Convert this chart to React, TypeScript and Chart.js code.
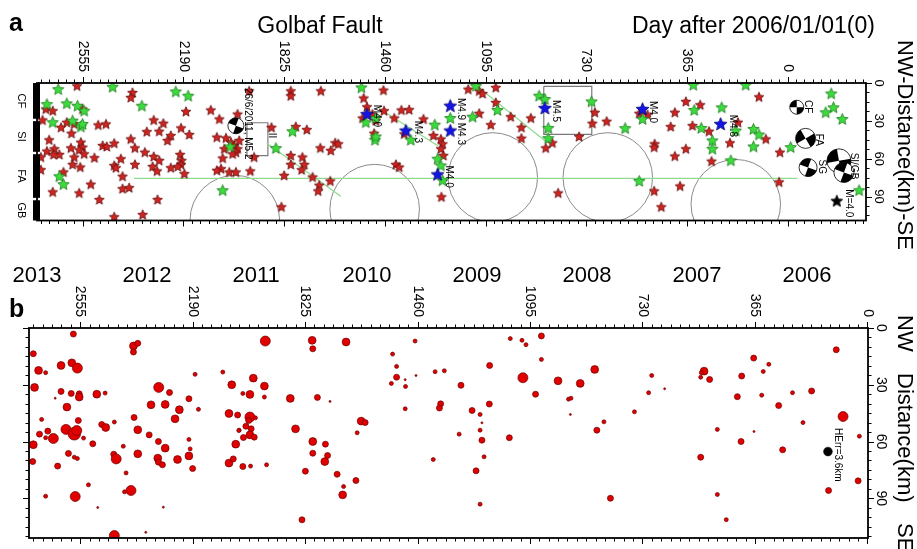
import React, { useEffect, useRef } from 'react';
import { Chart, registerables } from 'chart.js';
Chart.register(...registerables);

const FONT = '"Liberation Sans", Arial, Helvetica, sans-serif';

// ---------- Panel a data (day after 2006/01/01, NW-SE distance km) ----------
const dayTicks = [2555, 2190, 1825, 1460, 1095, 730, 365, 0];
const distTicks = [0, 30, 60, 90];

const redStarsA: number[][] = [
  [2576,2.6],[2375,7.9],[2381,11.8],[2689,21.0],[2664,22.3],[2701,29.7],[2556,21.0],[2613,31.5],[2634,35.5],[2596,40.2],
  [2586,32.8],[2499,33.6],[2471,32.8],[2298,29.7],[2263,32.3],[2181,22.9],[2091,21.8],[2060,28.9],[2323,38.9],[2278,38.6],
  [2199,36.0],[2169,41.2],[2236,42.0],[2248,45.9],[2381,44.7],[2441,48.1],[2483,49.9],[2468,50.7],[2562,47.3],[2556,51.2],
  [2598,51.8],[2568,53.3],[2677,45.4],[2685,54.4],[2658,52.5],[2640,57.0],[2661,57.0],[2586,59.1],[2550,56.5],[2513,59.6],
  [2366,51.8],[2330,55.2],[2298,58.6],[2278,61.7],[2202,57.0],[2197,61.7],[2199,64.9],[2417,60.4],[2441,65.7],[2435,67.5],
  [2366,64.9],[2592,64.9],[2564,67.0],[2707,59.1],[2707,69.1],[2302,66.5],[2286,70.1],[2236,67.5],[2187,72.2],[2211,66.5],
  [2411,74.3],[2625,70.9],[2526,80.6],[2411,84.1],[2387,83.3],[2568,87.5],[2664,86.7],[2495,92.7],[2284,92.7],[2441,106.4],
  [2338,104.6],[2069,43.3],[2036,43.9],[2042,52.5],[2018,47.3],[2006,49.9],[1994,52.5],[2000,55.2],[2012,56.5],[1988,45.9],
  [2048,59.9],[2054,68.3],[2069,69.6],[2024,70.9],[2000,70.9],[1994,25.0],
  [1952,6.6],[1801,6.6],[1801,10.5],[1692,6.6],[1465,6.0],[1537,12.3],[1525,19.2],[1541,28.1],[1505,25.0],[1493,30.2],
  [1463,22.3],[1426,28.1],[1400,21.8],[1372,21.5],[1320,28.9],[1390,40.7],[1284,42.0],[1257,44.7],[1251,48.6],[1257,52.5],
  [1248,57.8],[1255,90.6],[1499,40.2],[1871,35.5],[1783,34.9],[1743,37.3],[1694,51.8],[1656,53.8],[1640,47.8],[1629,48.6],
  [1801,57.8],[1759,59.1],[1801,64.9],[1752,64.9],[1762,69.1],[1722,74.9],[1698,81.4],[1702,85.9],[1658,78.0],[1825,73.6],
  [1948,70.1],[1934,59.1],[1835,98.5],[1420,64.9],[1408,67.0],
  [1158,5.3],[1118,6.6],[1106,8.7],[1058,3.9],[1058,15.8],[1118,24.4],[1076,33.4],[1004,27.1],[931,28.1],[965,35.5],
  [965,44.1],[877,51.8],[853,47.8],[699,23.6],[708,32.3],[756,42.8],[656,30.7],[538,24.4],[508,25.5],[482,48.6],
  [484,51.2],[832,87.5],[484,85.9],[458,98.5],
  [104,11.3],[369,15.0],[409,23.6],[317,17.6],[424,34.9],[345,34.1],[285,38.6],[180,31.5],[79,44.7],[369,52.5],
  [409,58.3],[209,47.8],[276,62.3],[28,55.2],[390,82.0],[31,78.8],
];

const greenStarsA: number[][] = [
  [2644,5.3],[2447,3.4],[2341,18.4],[2218,7.1],[2173,10.5],[2685,17.1],[2613,16.5],[2574,18.4],[2550,22.3],[2664,31.5],
  [2592,30.2],[2562,34.9],[2556,32.8],[2640,74.3],[2625,80.6],[2048,85.4],[2021,50.7],
  [1545,3.9],[1529,31.5],[1493,28.1],[1496,45.4],[1493,42.8],[1366,45.4],[1279,33.4],[1223,28.1],[1269,60.4],[1257,65.7],
  [1251,77.5],[1795,38.6],[1855,52.0],
  [1130,2.6],[1052,21.8],[1142,27.1],[901,10.5],[880,13.1],[868,36.0],[868,44.1],[711,15.0],[526,28.9],[589,36.2],[538,78.0],
  [342,1.8],[152,1.8],[339,21.8],[239,19.7],[313,36.0],[188,38.1],[124,36.8],[104,41.2],[273,45.9],[273,52.5],[124,50.7],
  [206,61.7],[-11,51.2],[-158,8.7],[-166,19.7],[-138,23.6],[-198,28.9],[-259,85.4],
];

const blueStarsA: number[][] = [
  [1525,25.0],[1384,38.1],[1223,18.4],[1223,38.1],[1269,72.8],[880,20.2],[526,21.0],[243,32.8],
];
const blackStarA: number[][] = [[-178, 93.8]];

const faultLineMain: number[][] = [[2370, 75.6], [-36, 75.6]];
const faultLine1: number[][] = [[1888, 47.8], [1620, 89.8]];
const faultLine2: number[][] = [[1481, 20.2], [1267, 49.9]];
const faultLine3: number[][] = [[1130, 1.8], [871, 47.3]];

// boxes: [dayStart, dayEnd, kmTop, kmBottom]
const boxesA: number[][] = [[1960, 1884, 31.5, 57.5], [884, 710, 2.6, 40.7]];
// circles: [day, km] centre, radius in km
const circleCentersA: number[][] = [[2004, 108.7], [1497, 100.0], [1069, 74.9], [652, 74.9], [188, 96.1]];
const circleRadiusKm = 35.5;

// beachballs: [day, km, magnitude, strike(deg)]
const beachballsA: number[][] = [
  [2000, 33.9, 5.2, 200], [-33, 19.2, 5.0, 180], [-65, 43.9, 5.6, 150],
  [-74, 67.0, 5.4, 200], [-186, 61.7, 6.0, 170], [-204, 70.9, 5.6, 20],
];

const annotationsA: [number, number, string][] = [
  [841, 13.4, 'M4.5'], [489, 14.2, 'M4.0'], [1185, 11.8, 'M4.9'], [1185, 31.5, 'M4.3'],
  [199, 25.2, 'M4.8'], [1489, 17.3, 'M4.0'], [1341, 29.9, 'M4.3'], [1229, 65.4, 'M4.0'],
  [1957, 3.9, '26/6/2011, M5.2'], [1870, 39.4, 'II'],
  [-72, 13.4, 'CF'], [-112, 40.2, 'FA'], [-123, 60.7, 'SG'], [-239, 55.2, 'SI/GB'], [-221, 84.3, 'M=4.0'],
];

const segmentBreaksKm = [29.3, 55.5, 92.0];
const segmentLabels = ['CF', 'SI', 'FA', 'GB'];

// ---------- Panel b data ----------
const yearLabels = ['2013', '2012', '2011', '2010', '2009', '2008', '2007', '2006'];
const yearDays = [2695, 2338, 1984, 1624, 1267, 910, 553, 196];

// [day, km, magnitude]
const quakesB: number[][] = [
  [2577,3.2,2.5],[2382,9.5,3],[2368,8.1,2.5],[2382,12.7,2.5],[2707,13.6,2.5],[2690,22.4,3],[2667,23.6,2],[2617,19.8,3],
  [2582,18.4,3],[2564,21.2,3.5],[2703,31.4,3],[2617,33.5,2.5],[2584,34.6,2.5],[2558,34.8,2.5],[2558,36.5,3],[2636,37.1,1.5],
  [2501,35.0,3],[2474,34.4,2],[2598,41.8,3],[2680,48.3,2],[2561,48.9,2.5],[2485,51.0,2.5],[2472,52.6,3],[2444,49.7,2],
  [2687,56.1,2.5],[2660,54.5,2.5],[2642,58.4,3.5],[2667,58.0,2],[2601,53.6,3.5],[2574,55.9,4],[2566,54.2,3.5],[2544,58.2,2],
  [2707,61.7,3],[2514,61.2,2.5],[2593,66.3,2.5],[2574,68.3,2],[2564,69.0,2],[2709,70.6,2.5],[2628,73.0,2.5],[2446,66.7,2.5],
  [2438,69.2,3.5],[2415,62.5,2],[2368,66.5,3],[2380,47.3,2.5],[2368,53.8,3],[2331,56.5,2.5],[2301,60.0,2.5],[2279,63.5,3],
  [2303,68.8,3],[2301,70.9,2.5],[2288,72.3,2.5],[2239,69.5,3],[2202,67.6,3],[2202,58.9,2],[2198,63.9,2],[2190,74.3,2.5],
  [2300,31.4,3.5],[2265,34.1,2.5],[2325,40.6,3],[2279,40.4,3],[2233,43.2,3],[2247,48.0,3],[2202,37.4,2.5],[2171,43.0,2],
  [2182,24.5,2],[2092,23.3,2],[2063,30.0,3],[2072,45.2,3],[2044,46.0,2.5],[2039,54.0,2],[2050,61.4,3],[2072,71.4,3],
  [2058,69.2,2.5],[2528,82.9,2],[2667,88.9,2],[2571,89.1,3.5],[2390,85.9,3.5],[2411,86.6,2],[2406,76.6,2],[2498,94.9,1.5],
  [2285,94.7,1.5],[2342,108.0,1.5],[2444,109.7,3.5],
  [1954,6.9,3.5],[1802,6.5,3],[1800,11.0,2.5],[1692,7.4,3],[1993,26.5,3],[1957,30.7,3],[2027,34.6,2],[2004,35.1,3],
  [1957,36.5,2],[1873,37.2,3],[1785,36.7,2.5],[1744,38.8,1.5],[2004,47.1,3.5],[1986,47.5,2],[2008,48.9,2.5],[2017,51.9,2.5],
  [2000,53.3,2.5],[2004,56.5,3],[1990,57.7,2.5],[2025,57.9,2.5],[2040,54.2,2],[1856,53.3,3],[1800,60.0,3],[1759,61.4,2.5],
  [1800,66.2,2.5],[1752,67.4,2.5],[1761,70.6,3],[1824,75.7,2.5],[2027,73.2,2.5],[2002,73.0,2],[1950,72.3,2],[1721,77.3,2.5],
  [1660,80.6,2.5],[1700,83.8,2],[1703,88.2,3],[1835,101.4,2.5],[1643,49.2,3],[1630,50.0,2.5],[1656,55.4,2],[1468,6.9,2],
  [1541,13.8,2],[1528,20.3,2],[1528,26.0,2.5],[1545,29.3,2],[1500,27.3,1.5],[1499,30.9,2],[1465,25.1,1.5],[1403,23.1,2],
  [1373,22.6,2],[1500,42.7,2],[1385,40.1,2.5],[1389,42.3,2.5],[1409,69.5,2],
  [1159,5.6,2],[1121,6.5,2],[1108,8.8,2],[1058,4.2,2.5],[1058,16.6,2],[1226,19.8,2.5],[1118,26.3,3.5],[1319,30.3,2.5],
  [1004,27.9,3],[932,29.3,3],[885,21.9,3],[1077,35.0,2.5],[970,37.6,2],[962,37.1,2],[1227,40.2,2.5],[1283,43.6,2.5],
  [1257,45.7,2],[1251,50.1,1.5],[1257,54.0,2],[1325,56.1,2],[1251,59.3,2.5],[1162,58.0,2.5],[1244,68.1,2],[1270,75.5,2.5],
  [1257,93.1,2],[964,45.7,1.5],[855,49.6,2],[878,54.0,2.5],[834,90.0,2.5],[756,44.3,2],[710,34.2,2],[700,25.1,2],
  [658,32.1,1.5],[530,22.8,3],[539,23.6,2],[541,26.0,2],[512,27.2,2.5],[369,15.9,2.5],[320,19.2,2],[338,23.0,2],
  [408,25.4,2.5],[422,36.3,2.5],[343,35.5,2],[288,41.0,2.5],[243,34.2,2],[181,33.3,2.5],[101,11.5,2.5],[79,46.8,3.5],
  [209,50.0,2],[487,53.6,2],[368,54.7,1.5],[410,60.0,2.5],[275,64.4,2.5],[541,68.3,2.5],[26,57.2,2],[30,80.8,2.5],
  [126,85.9,2.5],[487,88.0,2],[458,101.3,2],
];
const herrPointB: number[][] = [[128, 65.3]];
const herrLabelB: [number, number, string] = [96, 52.9, 'HErr=3.6km'];

// ---------- helpers ----------
const toXY = (arr: number[][]) => arr.map((p) => ({ x: p[0], y: p[1] }));

function makeStar(r: number, fill: string, stroke: string) {
  const s = Math.ceil(r * 2 + 3);
  const c = document.createElement('canvas');
  c.width = s; c.height = s;
  const g = c.getContext('2d')!;
  g.beginPath();
  for (let i = 0; i < 10; i++) {
    const rr = i % 2 === 0 ? r : r * 0.45;
    const a = -Math.PI / 2 + (i * Math.PI) / 5;
    g.lineTo(s / 2 + rr * Math.cos(a), s / 2 + rr * Math.sin(a));
  }
  g.closePath();
  g.fillStyle = fill; g.fill();
  g.lineWidth = 0.8; g.strokeStyle = stroke; g.stroke();
  return c;
}

function vText(ctx: CanvasRenderingContext2D, text: string, x: number, y: number, align: CanvasTextAlign, font: string) {
  ctx.save();
  ctx.translate(x, y);
  ctx.rotate(Math.PI / 2);
  ctx.font = font;
  ctx.fillStyle = '#000';
  ctx.textAlign = align;
  ctx.textBaseline = 'middle';
  ctx.fillText(text, 0, 0);
  ctx.restore();
}

function drawXTicks(ctx: CanvasRenderingContext2D, scale: any, yLine: number, dir: number) {
  const step = 365 / 12;
  const lo = Math.min(scale.min, scale.max), hi = Math.max(scale.min, scale.max);
  const k0 = Math.ceil(lo / step), k1 = Math.floor(hi / step);
  ctx.beginPath();
  for (let k = k0; k <= k1; k++) {
    const px = Math.round(scale.getPixelForValue(k * step)) + 0.5;
    const len = k % 12 === 0 ? 6 : 3.5;
    ctx.moveTo(px, yLine);
    ctx.lineTo(px, yLine + dir * len);
  }
  ctx.stroke();
}

function drawYTicks(ctx: CanvasRenderingContext2D, scale: any, xLine: number, dir: number, step: number) {
  const hi = Math.max(scale.min, scale.max);
  ctx.beginPath();
  for (let k = 0; k * step <= hi + 1e-6; k++) {
    const v = k * step;
    const py = Math.round(scale.getPixelForValue(v)) + 0.5;
    const len = Math.abs(v / 30 - Math.round(v / 30)) < 1e-6 ? 6 : 3.5;
    ctx.moveTo(xLine, py);
    ctx.lineTo(xLine + dir * len, py);
  }
  ctx.stroke();
}

const ballRadius = (mag: number) => 5 * (mag - 5) + 7;
const quakeRadius = (mag: number) => ({ 1.5: 1.0, 2: 2.0, 2.5: 3.0, 3: 3.9, 3.5: 5.0, 4: 6.3 } as any)[mag] ?? 2;

const panelAPlugin = {
  id: 'panelA',
  beforeDatasetsDraw(chart: any) {
    const { ctx, chartArea: ca, scales: { x, y } } = chart;
    ctx.save();
    ctx.beginPath();
    ctx.rect(ca.left, ca.top, ca.right - ca.left, ca.bottom - ca.top);
    ctx.clip();
    ctx.strokeStyle = '#8a8a8a';
    ctx.lineWidth = 1;
    const rpx = Math.abs(y.getPixelForValue(circleRadiusKm) - y.getPixelForValue(0));
    for (const c of circleCentersA) {
      ctx.beginPath();
      ctx.arc(x.getPixelForValue(c[0]), y.getPixelForValue(c[1]), rpx, 0, Math.PI * 2);
      ctx.stroke();
    }
    ctx.restore();
  },
  afterDatasetsDraw(chart: any) {
    const { ctx, scales: { x, y } } = chart;
    ctx.save();
    for (const b of beachballsA) {
      const cx = x.getPixelForValue(b[0]), cy = y.getPixelForValue(b[1]);
      const r = ballRadius(b[2]);
      const rot = (b[3] * Math.PI) / 180;
      ctx.beginPath(); ctx.arc(cx, cy, r, 0, Math.PI * 2);
      ctx.fillStyle = '#fff'; ctx.fill();
      ctx.fillStyle = '#000';
      for (let k = 0; k < 2; k++) {
        ctx.beginPath();
        ctx.moveTo(cx, cy);
        ctx.arc(cx, cy, r, rot + k * Math.PI, rot + k * Math.PI + Math.PI / 2);
        ctx.closePath();
        ctx.fill();
      }
      ctx.beginPath(); ctx.arc(cx, cy, r, 0, Math.PI * 2);
      ctx.strokeStyle = '#000'; ctx.lineWidth = 0.8; ctx.stroke();
    }
    for (const a of annotationsA) {
      vText(ctx, a[2], x.getPixelForValue(a[0]), y.getPixelForValue(a[1]), 'left', `10px ${FONT}`);
    }
    ctx.restore();
  },
  afterDraw(chart: any) {
    const { ctx, chartArea: ca, scales: { x, y } } = chart;
    ctx.save();
    ctx.strokeStyle = '#000';
    ctx.lineWidth = 1;
    drawXTicks(ctx, x, ca.top, -1);
    drawXTicks(ctx, x, ca.bottom, 1);
    drawYTicks(ctx, y, ca.right, 1, 7.5);
    ctx.lineWidth = 1.8;
    ctx.strokeRect(ca.left, ca.top, ca.right - ca.left, ca.bottom - ca.top);
    // left segment bar
    const edges = [0, ...segmentBreaksKm, y.max];
    ctx.fillStyle = '#000';
    for (let i = 0; i < edges.length - 1; i++) {
      const t = Math.max(ca.top, y.getPixelForValue(edges[i]) + (i === 0 ? 0 : 1.2));
      const b = Math.min(ca.bottom, y.getPixelForValue(edges[i + 1]) - (i === edges.length - 2 ? 0 : 1.2));
      ctx.fillRect(ca.left - 4, t, 7, b - t);
      vText(ctx, segmentLabels[i], ca.left - 16, (t + b) / 2, 'center', `11px ${FONT}`);
    }
    // tick labels
    for (const d of dayTicks) {
      vText(ctx, String(d), x.getPixelForValue(d), ca.top - 11, 'right', `14px ${FONT}`);
    }
    for (const v of distTicks) {
      vText(ctx, String(v), ca.right + 13, y.getPixelForValue(v), 'center', `13px ${FONT}`);
    }
    // titles
    ctx.fillStyle = '#000';
    ctx.textBaseline = 'alphabetic';
    ctx.font = `bold 25px ${FONT}`;
    ctx.textAlign = 'left';
    ctx.fillText('a', 9, 31);
    ctx.font = `23px ${FONT}`;
    ctx.textAlign = 'center';
    ctx.fillText('Golbaf Fault', 320, 33);
    ctx.textAlign = 'left';
    ctx.fillText('Day after 2006/01/01(0)', 632, 33);
    vText(ctx, 'NW-Distance(km)-SE', 904, 40, 'left', `22px ${FONT}`);
    ctx.restore();
  },
};

const panelBPlugin = {
  id: 'panelB',
  afterDatasetsDraw(chart: any) {
    const { ctx, scales: { x, y } } = chart;
    vText(ctx, herrLabelB[2], x.getPixelForValue(herrLabelB[0]), y.getPixelForValue(herrLabelB[1]), 'left', `10px ${FONT}`);
  },
  afterDraw(chart: any) {
    const { ctx, chartArea: ca, scales: { x, y } } = chart;
    ctx.save();
    ctx.strokeStyle = '#000';
    ctx.lineWidth = 1;
    drawXTicks(ctx, x, ca.top, -1);
    drawXTicks(ctx, x, ca.bottom, 1);
    drawYTicks(ctx, y, ca.left, -1, 5);
    drawYTicks(ctx, y, ca.right, 1, 5);
    ctx.lineWidth = 1.8;
    ctx.strokeRect(ca.left, ca.top, ca.right - ca.left, ca.bottom - ca.top);
    for (const d of dayTicks) {
      vText(ctx, String(d), x.getPixelForValue(d), ca.top - 11, 'right', `14px ${FONT}`);
    }
    for (const v of distTicks) {
      vText(ctx, String(v), ca.right + 13, y.getPixelForValue(v), 'center', `14px ${FONT}`);
    }
    ctx.fillStyle = '#000';
    ctx.font = `22px ${FONT}`;
    ctx.textAlign = 'center';
    ctx.textBaseline = 'alphabetic';
    yearLabels.forEach((lab, i) => ctx.fillText(lab, x.getPixelForValue(yearDays[i]), 282));
    ctx.font = `bold 25px ${FONT}`;
    ctx.textAlign = 'left';
    ctx.fillText('b', 9, 317);
    vText(ctx, 'NW', 904, 315, 'left', `22px ${FONT}`);
    vText(ctx, 'Distance(km)', 904, 373, 'left', `22px ${FONT}`);
    vText(ctx, 'SE', 904, 523, 'left', `22px ${FONT}`);
    ctx.restore();
  },
};

function baseOptions(padding: any, xRange: number[], yRange: number[]) {
  return {
    responsive: false,
    animation: false as const,
    devicePixelRatio: 1,
    events: [] as any[],
    layout: { padding },
    plugins: { legend: { display: false }, tooltip: { enabled: false } },
    scales: {
      x: { type: 'linear' as const, display: false, reverse: true, min: xRange[0], max: xRange[1] },
      y: { type: 'linear' as const, display: false, reverse: true, min: yRange[0], max: yRange[1] },
    },
  };
}

const lineDs = (pts: number[][], color: string, width: number) => ({
  data: toXY(pts), showLine: true, borderColor: color, borderWidth: width, pointRadius: 0, fill: false, tension: 0,
});

export default function App() {
  const refA = useRef<HTMLCanvasElement>(null);
  const refB = useRef<HTMLCanvasElement>(null);

  useEffect(() => {
    const redStar = makeStar(5.2, '#cf2420', '#641010');
    const greenStar = makeStar(6.0, '#3bdc3b', '#1f7a1f');
    const blueStar = makeStar(6.8, '#1414e6', '#0a0a70');
    const blackStar = makeStar(6.2, '#000', '#000');

    const boxDatasets = boxesA.map((b) =>
      lineDs([[b[0], b[2]], [b[1], b[2]], [b[1], b[3]], [b[0], b[3]], [b[0], b[2]]], '#7a7a7a', 1.2)
    );

    const chartA = new Chart(refA.current!, {
      type: 'scatter',
      data: {
        datasets: [
          { data: toXY(blackStarA), pointStyle: blackStar as any, pointRadius: 6 },
          { data: toXY(blueStarsA), pointStyle: blueStar as any, pointRadius: 6 },
          { data: toXY(greenStarsA), pointStyle: greenStar as any, pointRadius: 6 },
          { data: toXY(redStarsA), pointStyle: redStar as any, pointRadius: 5 },
          lineDs(faultLineMain, '#8fdc8f', 1.3),
          lineDs(faultLine1, '#8fdc8f', 1.3),
          lineDs(faultLine2, '#8fdc8f', 1.3),
          lineDs(faultLine3, '#8fdc8f', 1.3),
          ...boxDatasets,
        ] as any,
      },
      options: baseOptions({ left: 37, top: 83, right: 51, bottom: 328.5 }, [-284, 2721], [0, 109]) as any,
      plugins: [panelAPlugin],
    });

    const chartB = new Chart(refB.current!, {
      type: 'scatter',
      data: {
        datasets: [
          { data: toXY(herrPointB), pointRadius: 4.4, backgroundColor: '#000', borderColor: '#000', borderWidth: 0.5 },
          {
            data: quakesB.map((q) => ({ x: q[0], y: q[1] })),
            pointRadius: quakesB.map((q) => quakeRadius(q[2])),
            backgroundColor: '#e00000',
            borderColor: '#6e0000',
            borderWidth: 0.7,
          },
        ] as any,
      },
      options: baseOptions({ left: 29, top: 328, right: 49, bottom: 11 }, [-2, 2721], [0, 111]) as any,
      plugins: [panelBPlugin],
    });

    return () => {
      chartA.destroy();
      chartB.destroy();
    };
  }, []);

  const cs: React.CSSProperties = { position: 'absolute', left: 0, top: 0 };
  return (
    <div style={{ position: 'fixed', left: 0, top: 0, width: 917, height: 549, background: '#fff' }}>
      <canvas ref={refA} width={917} height={549} style={cs} />
      <canvas ref={refB} width={917} height={549} style={cs} />
    </div>
  );
}
